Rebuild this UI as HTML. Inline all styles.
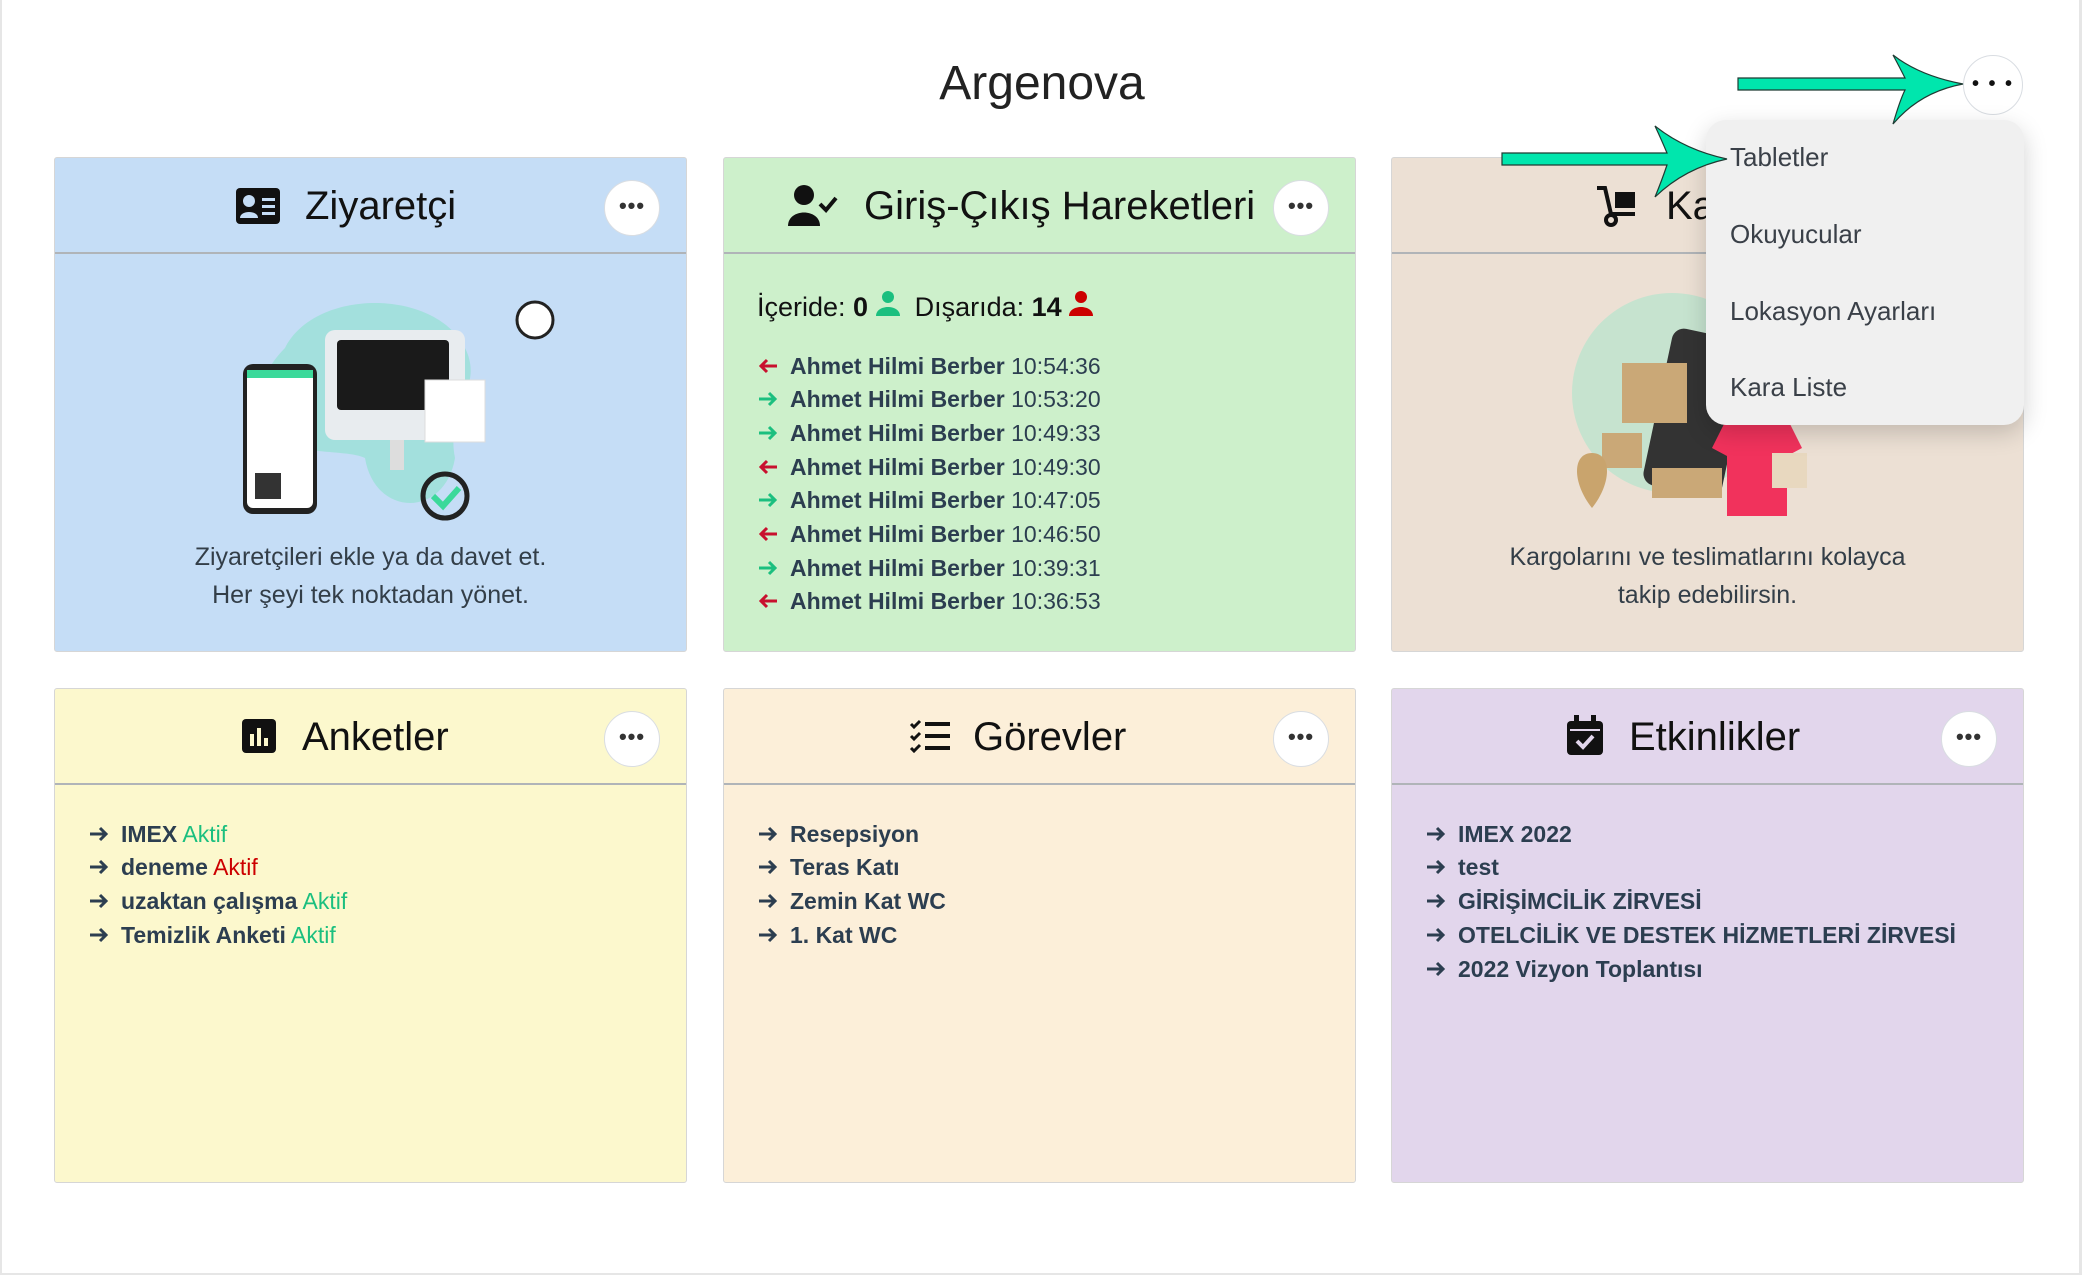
<!DOCTYPE html>
<html><head><meta charset="utf-8">
<style>
*{box-sizing:border-box;margin:0;padding:0}
body{width:2084px;height:1276px;background:#fff;position:relative;overflow:hidden;font-family:"Liberation Sans",sans-serif;color:#222}
.frame{position:absolute;left:0;top:0;width:2082px;height:1275px;border-left:2px solid #e6e6e6;border-right:3px solid #e6e6e6;border-bottom:2px solid #e6e6e6}
.title{position:absolute;left:0;width:2084px;text-align:center;top:56px;font-size:48px;color:#222}
.card{position:absolute;width:633px;height:495px;border:1px solid #d6d6d6;border-radius:3px}
.hd{position:absolute;left:0;top:0;width:100%;height:96px;border-bottom:2px solid #b0b4b8}
.ht{position:absolute;top:24px;font-size:40px;color:#111;line-height:48px}
.ic{position:absolute;top:28px}
.btn{position:absolute;right:26px;top:22px;width:56px;height:56px;border-radius:50%;background:#fff;border:1px solid #d9dde2;text-align:center;line-height:50px;font-size:22px;font-weight:bold;color:#333;letter-spacing:1px}
.li{position:absolute;font-size:23px;color:#2c3e50;white-space:nowrap;line-height:30px}
.li b{font-weight:bold}
.li svg{position:absolute;left:-32px;top:7px}
.desc{position:absolute;left:0;width:100%;text-align:center;font-size:25px;color:#333e48;line-height:38px}
.dd{position:absolute;left:1706px;top:120px;width:318px;height:305px;background:#f0f0f0;border-radius:20px;box-shadow:0 8px 24px rgba(0,0,0,.18)}
.dd div{position:absolute;left:24px;font-size:26px;color:#3a4048}
</style></head><body>
<div class="frame"></div>
<div class="title">Argenova</div>

<!-- Card 1 -->
<div class="card" style="left:54px;top:157px;background:#c5ddf6">
 <div class="hd"></div>
 <svg class="ic" style="left:181px;top:30px" width="44" height="36" viewBox="0 0 44 36"><rect width="44" height="36" rx="4" fill="#111"/><circle cx="13" cy="13" r="6" fill="#c5ddf6"/><path d="M4 30c0-8 18-8 18 0z" fill="#c5ddf6"/><rect x="26" y="10" width="13" height="3" fill="#c5ddf6"/><rect x="26" y="17" width="13" height="3" fill="#c5ddf6"/><rect x="26" y="24" width="13" height="3" fill="#c5ddf6"/></svg>
 <div class="ht" style="left:250px">Ziyaretçi</div>
 <div class="btn">•••</div>
 <svg style="position:absolute;left:170px;top:130px" width="350" height="240">
  <path d="M60 60 C90 0 210 0 240 60 C260 100 220 120 230 170 C220 230 150 230 140 170 C120 160 60 170 40 140 C25 110 40 80 60 60z" fill="#9fe0da" opacity=".9"/>
  <rect x="100" y="42" width="140" height="110" rx="10" fill="#e8ecef"/>
  <rect x="112" y="52" width="112" height="70" rx="4" fill="#1a1a1a"/>
  <rect x="165" y="152" width="14" height="30" fill="#ddd"/>
  <rect x="200" y="92" width="60" height="62" fill="#fff" stroke="#ddd"/>
  <circle cx="310" cy="32" r="18" fill="#fff" stroke="#222" stroke-width="3"/>
  <rect x="18" y="76" width="74" height="150" rx="10" fill="#222"/>
  <rect x="22" y="82" width="66" height="138" rx="6" fill="#fff"/>
  <rect x="22" y="82" width="66" height="8" fill="#3bd99a"/>
  <rect x="30" y="185" width="26" height="26" fill="#333"/>
  <circle cx="220" cy="208" r="22" fill="none" stroke="#222" stroke-width="5"/>
  <path d="M208 208l10 10 16-18" stroke="#3bd99a" stroke-width="6" fill="none"/>
 </svg>
 <div class="desc" style="top:380px">Ziyaretçileri ekle ya da davet et.<br>Her şeyi tek noktadan yönet.</div>
</div>

<!-- Card 2 -->
<div class="card" style="left:723px;top:157px;background:#cdf0cb">
 <div class="hd"></div>
 <svg class="ic" style="left:64px;top:26px" width="50" height="42" viewBox="0 0 50 42"><circle cx="16" cy="11" r="10" fill="#111"/><path d="M0 42c0-18 32-18 32 0z" fill="#111"/><path d="M32 20l6 6 10-12" stroke="#111" stroke-width="4" fill="none"/></svg>
 <div class="ht" style="left:140px">Giriş-Çıkış Hareketleri</div>
 <div class="btn">•••</div>
 <div style="position:absolute;left:33px;top:132px;font-size:27px;color:#111;white-space:nowrap">İçeride: <b>0</b> <svg width="24" height="26" viewBox="0 0 24 26"><circle cx="12" cy="7" r="6" fill="#1bbf7f"/><path d="M0 26c0-12 24-12 24 0z" fill="#1bbf7f"/></svg>&nbsp; Dışarıda: <b>14</b> <svg width="24" height="26" viewBox="0 0 24 26"><circle cx="12" cy="7" r="6" fill="#c00"/><path d="M0 26c0-12 24-12 24 0z" fill="#c00"/></svg></div>
 <div class="li" style="left:66px;top:193px"><svg width="20" height="16"><path d="M19 8H3M9 2L3 8l6 6" stroke="#c8102e" stroke-width="3" fill="none"/></svg><b>Ahmet Hilmi Berber</b> 10:54:36</div>
 <div class="li" style="left:66px;top:226px"><svg width="20" height="16"><path d="M1 8h16M11 2l6 6-6 6" stroke="#1bbf7f" stroke-width="3" fill="none"/></svg><b>Ahmet Hilmi Berber</b> 10:53:20</div>
 <div class="li" style="left:66px;top:260px"><svg width="20" height="16"><path d="M1 8h16M11 2l6 6-6 6" stroke="#1bbf7f" stroke-width="3" fill="none"/></svg><b>Ahmet Hilmi Berber</b> 10:49:33</div>
 <div class="li" style="left:66px;top:294px"><svg width="20" height="16"><path d="M19 8H3M9 2L3 8l6 6" stroke="#c8102e" stroke-width="3" fill="none"/></svg><b>Ahmet Hilmi Berber</b> 10:49:30</div>
 <div class="li" style="left:66px;top:327px"><svg width="20" height="16"><path d="M1 8h16M11 2l6 6-6 6" stroke="#1bbf7f" stroke-width="3" fill="none"/></svg><b>Ahmet Hilmi Berber</b> 10:47:05</div>
 <div class="li" style="left:66px;top:361px"><svg width="20" height="16"><path d="M19 8H3M9 2L3 8l6 6" stroke="#c8102e" stroke-width="3" fill="none"/></svg><b>Ahmet Hilmi Berber</b> 10:46:50</div>
 <div class="li" style="left:66px;top:395px"><svg width="20" height="16"><path d="M1 8h16M11 2l6 6-6 6" stroke="#1bbf7f" stroke-width="3" fill="none"/></svg><b>Ahmet Hilmi Berber</b> 10:39:31</div>
 <div class="li" style="left:66px;top:428px"><svg width="20" height="16"><path d="M19 8H3M9 2L3 8l6 6" stroke="#c8102e" stroke-width="3" fill="none"/></svg><b>Ahmet Hilmi Berber</b> 10:36:53</div>
</div>

<!-- Card 3 -->
<div class="card" style="left:1391px;top:157px;background:#ece0d4">
 <div class="hd"></div>
 <svg class="ic" style="left:203px;top:26px" width="44" height="44" viewBox="0 0 44 44"><path d="M2 4h8l6 26h24" stroke="#111" stroke-width="4" fill="none"/><circle cx="16" cy="36" r="5" fill="none" stroke="#111" stroke-width="4"/><rect x="20" y="8" width="20" height="16" fill="#111"/></svg>
 <div class="ht" style="left:274px">Kargo</div>
 <svg style="position:absolute;left:170px;top:135px" width="300" height="240">
  <circle cx="110" cy="100" r="100" fill="#c6e3cf"/>
  <rect x="95" y="40" width="80" height="160" rx="12" fill="#333" transform="rotate(12 135 120)"/>
  <rect x="60" y="70" width="65" height="60" fill="#caa877"/>
  <rect x="40" y="140" width="40" height="35" fill="#caa877"/>
  <path d="M30 160c-20 0-20 30 0 55c20-25 20-55 0-55z" fill="#c9a46d"/>
  <rect x="90" y="175" width="70" height="30" fill="#caa877"/>
  <path d="M170 115h50l20 40-15 8 0 60h-60v-60l-15-8z" fill="#f1325c"/>
  <rect x="210" y="160" width="35" height="35" fill="#e8d8bf"/>
 </svg>
 <div class="desc" style="top:380px">Kargolarını ve teslimatlarını kolayca<br>takip edebilirsin.</div>
</div>

<!-- Card 4 -->
<div class="card" style="left:54px;top:688px;background:#fcf8cd">
 <div class="hd"></div>
 <svg class="ic" style="left:187px;top:30px" width="34" height="34" viewBox="0 0 34 34"><rect width="34" height="34" rx="4" fill="#111"/><rect x="8" y="15" width="4" height="12" fill="#fcf8cd"/><rect x="15" y="9" width="4" height="18" fill="#fcf8cd"/><rect x="22" y="19" width="4" height="8" fill="#fcf8cd"/></svg>
 <div class="ht" style="left:247px">Anketler</div>
 <div class="btn">•••</div>
 <div class="li" style="left:66px;top:130px"><svg width="20" height="16"><path d="M1 8h16M11 2l6 6-6 6" stroke="#2c3e50" stroke-width="3" fill="none"/></svg><b>IMEX</b> <span style="color:#1bbf7f">Aktif</span></div>
 <div class="li" style="left:66px;top:163px"><svg width="20" height="16"><path d="M1 8h16M11 2l6 6-6 6" stroke="#2c3e50" stroke-width="3" fill="none"/></svg><b>deneme</b> <span style="color:#cc0000">Aktif</span></div>
 <div class="li" style="left:66px;top:197px"><svg width="20" height="16"><path d="M1 8h16M11 2l6 6-6 6" stroke="#2c3e50" stroke-width="3" fill="none"/></svg><b>uzaktan çalışma</b> <span style="color:#1bbf7f">Aktif</span></div>
 <div class="li" style="left:66px;top:231px"><svg width="20" height="16"><path d="M1 8h16M11 2l6 6-6 6" stroke="#2c3e50" stroke-width="3" fill="none"/></svg><b>Temizlik Anketi</b> <span style="color:#1bbf7f">Aktif</span></div>
</div>

<!-- Card 5 -->
<div class="card" style="left:723px;top:688px;background:#fcefd9">
 <div class="hd"></div>
 <svg class="ic" style="left:185px;top:30px" width="42" height="34" viewBox="0 0 42 34"><path d="M2 5l3 3 6-6M2 17l3 3 6-6M2 29l3 3 6-6" stroke="#111" stroke-width="3" fill="none"/><rect x="16" y="3" width="25" height="4" fill="#111"/><rect x="16" y="15" width="25" height="4" fill="#111"/><rect x="16" y="27" width="25" height="4" fill="#111"/></svg>
 <div class="ht" style="left:249px">Görevler</div>
 <div class="btn">•••</div>
 <div class="li" style="left:66px;top:130px"><svg width="20" height="16"><path d="M1 8h16M11 2l6 6-6 6" stroke="#2c3e50" stroke-width="3" fill="none"/></svg><b>Resepsiyon</b></div>
 <div class="li" style="left:66px;top:163px"><svg width="20" height="16"><path d="M1 8h16M11 2l6 6-6 6" stroke="#2c3e50" stroke-width="3" fill="none"/></svg><b>Teras Katı</b></div>
 <div class="li" style="left:66px;top:197px"><svg width="20" height="16"><path d="M1 8h16M11 2l6 6-6 6" stroke="#2c3e50" stroke-width="3" fill="none"/></svg><b>Zemin Kat WC</b></div>
 <div class="li" style="left:66px;top:231px"><svg width="20" height="16"><path d="M1 8h16M11 2l6 6-6 6" stroke="#2c3e50" stroke-width="3" fill="none"/></svg><b>1. Kat WC</b></div>
</div>

<!-- Card 6 -->
<div class="card" style="left:1391px;top:688px;background:#e2d6ec">
 <div class="hd"></div>
 <svg class="ic" style="left:175px;top:26px" width="36" height="40" viewBox="0 0 36 40"><rect x="0" y="6" width="36" height="34" rx="4" fill="#111"/><rect x="7" y="0" width="5" height="10" fill="#111"/><rect x="24" y="0" width="5" height="10" fill="#111"/><rect x="3" y="14" width="30" height="2" fill="#e2d6ec"/><path d="M10 26l6 6 10-11" stroke="#e2d6ec" stroke-width="4" fill="none"/></svg>
 <div class="ht" style="left:237px">Etkinlikler</div>
 <div class="btn">•••</div>
 <div class="li" style="left:66px;top:130px"><svg width="20" height="16"><path d="M1 8h16M11 2l6 6-6 6" stroke="#2c3e50" stroke-width="3" fill="none"/></svg><b>IMEX 2022</b></div>
 <div class="li" style="left:66px;top:163px"><svg width="20" height="16"><path d="M1 8h16M11 2l6 6-6 6" stroke="#2c3e50" stroke-width="3" fill="none"/></svg><b>test</b></div>
 <div class="li" style="left:66px;top:197px"><svg width="20" height="16"><path d="M1 8h16M11 2l6 6-6 6" stroke="#2c3e50" stroke-width="3" fill="none"/></svg><b>GİRİŞİMCİLİK ZİRVESİ</b></div>
 <div class="li" style="left:66px;top:231px"><svg width="20" height="16"><path d="M1 8h16M11 2l6 6-6 6" stroke="#2c3e50" stroke-width="3" fill="none"/></svg><b>OTELCİLİK VE DESTEK HİZMETLERİ ZİRVESİ</b></div>
 <div class="li" style="left:66px;top:265px"><svg width="20" height="16"><path d="M1 8h16M11 2l6 6-6 6" stroke="#2c3e50" stroke-width="3" fill="none"/></svg><b>2022 Vizyon Toplantısı</b></div>
</div>

<!-- top dots button -->
<div style="position:absolute;left:1963px;top:55px;width:60px;height:60px;border-radius:50%;background:#fff;border:1px solid #d9dde2;text-align:center;line-height:56px;font-size:20px;font-weight:bold;color:#111;letter-spacing:2px">• • •</div>

<!-- dropdown -->
<div class="dd">
 <div style="top:22px">Tabletler</div>
 <div style="top:99px">Okuyucular</div>
 <div style="top:176px">Lokasyon Ayarları</div>
 <div style="top:252px">Kara Liste</div>
</div>

<!-- arrows -->
<svg style="position:absolute;left:0;top:0" width="2084" height="1276">
 <g fill="#00e6ad" stroke="#1f3b33" stroke-width="1.2">
  <path d="M1738 78 H1905 Q1900 68 1893 55 Q1920 76 1963 84 Q1920 92 1893 124 Q1900 100 1905 90 H1738 Z"/>
  <path d="M1502 153 H1667 Q1662 141 1655 126 Q1685 150 1727 159 Q1685 168 1655 197 Q1662 180 1667 165 H1502 Z"/>
 </g>
</svg>
</body></html>
